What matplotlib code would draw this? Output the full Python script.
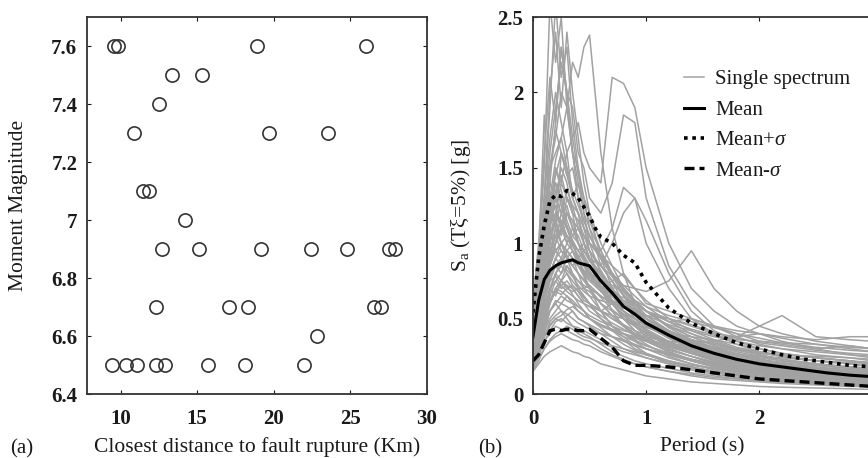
import matplotlib
matplotlib.use("Agg")
import matplotlib.pyplot as plt

# ---- panel (a): recorded events ----
dist_km = [9.57, 9.80, 18.88, 26.0,
           13.37, 15.29,
           12.48,
           10.85, 19.66, 23.56,
           11.46, 11.87,
           14.2,
           12.68, 15.12, 19.16, 22.43, 24.80, 27.52, 27.91,
           12.29, 17.1, 18.29, 26.52, 27.02,
           22.82,
           9.46, 10.35, 11.07, 12.33, 12.9, 15.72, 18.14, 21.95]
magnitude = [7.6, 7.6, 7.6, 7.6,
             7.5, 7.5,
             7.4,
             7.3, 7.3, 7.3,
             7.1, 7.1,
             7.0,
             6.9, 6.9, 6.9, 6.9, 6.9, 6.9, 6.9,
             6.7, 6.7, 6.7, 6.7, 6.7,
             6.6,
             6.5, 6.5, 6.5, 6.5, 6.5, 6.5, 6.5, 6.5]

# ---- panel (b): response spectra ----
periods = [0.0, 0.05, 0.1, 0.15, 0.2, 0.25, 0.3, 0.35, 0.4, 0.45, 0.5, 0.6, 0.7,
           0.8, 0.9, 1.0, 1.2, 1.4, 1.6, 1.8, 2.0, 2.2, 2.5, 2.8, 3.0]
spectra = [
    [0.55, 0.9, 1.5, 2.6, 2.2, 2.5, 1.9, 1.6, 1.3, 1.1, 0.95, 0.7, 0.55, 0.45, 0.38, 0.33, 0.25, 0.2, 0.16, 0.13, 0.11, 0.1, 0.08, 0.07, 0.06],
    [0.5, 0.8, 1.3, 1.9, 2.6, 2.1, 2.3, 1.8, 1.5, 1.2, 1.0, 0.8, 0.62, 0.5, 0.42, 0.36, 0.28, 0.22, 0.18, 0.15, 0.13, 0.11, 0.09, 0.08, 0.07],
    [0.45, 0.7, 1.1, 1.5, 1.7, 2.0, 1.9, 2.2, 2.1, 2.3, 2.38, 1.6, 1.1, 0.8, 0.6, 0.5, 0.38, 0.3, 0.25, 0.2, 0.17, 0.15, 0.12, 0.1, 0.09],
    [0.5, 0.75, 1.2, 1.6, 1.9, 2.2, 2.0, 1.7, 1.8, 1.6, 1.5, 1.4, 2.1, 2.06, 1.9, 1.5, 1.0, 0.7, 0.55, 0.45, 0.4, 0.35, 0.3, 0.26, 0.24],
    [0.45, 0.7, 1.0, 1.4, 1.8, 2.3, 2.0, 1.9, 1.6, 1.5, 1.3, 1.2, 1.4, 1.85, 1.8, 1.3, 0.85, 0.6, 0.45, 0.38, 0.33, 0.3, 0.26, 0.24, 0.22],
    [0.35, 0.9, 1.85, 1.2, 1.4, 1.3, 1.1, 1.0, 0.9, 0.8, 0.7, 0.55, 0.45, 0.38, 0.32, 0.27, 0.2, 0.16, 0.13, 0.11, 0.09, 0.08, 0.07, 0.06, 0.05],
    [0.4, 0.7, 1.3, 2.0, 2.4, 1.9, 2.4, 2.0, 1.7, 1.4, 1.2, 0.9, 0.7, 0.55, 0.45, 0.38, 0.3, 0.25, 0.2, 0.17, 0.15, 0.13, 0.11, 0.1, 0.09],
    [0.6, 1.0, 1.6, 2.1, 1.8, 2.3, 2.0, 1.6, 1.5, 1.3, 1.1, 0.85, 0.75, 0.6, 0.5, 0.42, 0.33, 0.27, 0.22, 0.19, 0.17, 0.15, 0.13, 0.11, 0.1],
    [0.4, 0.6, 0.9, 1.2, 1.5, 1.4, 1.6, 1.3, 1.2, 1.1, 1.0, 0.95, 1.1, 1.37, 1.3, 1.0, 0.7, 0.5, 0.4, 0.33, 0.28, 0.25, 0.22, 0.2, 0.18],
    [0.35, 0.55, 0.8, 1.1, 1.3, 1.5, 1.4, 1.2, 1.15, 1.0, 0.9, 0.85, 1.0, 1.2, 1.3, 1.15, 0.8, 0.55, 0.42, 0.35, 0.3, 0.27, 0.24, 0.22, 0.2],
    [0.3, 0.45, 0.6, 0.8, 0.9, 1.0, 0.95, 0.9, 0.85, 0.8, 0.8, 0.75, 0.7, 0.72, 0.7, 0.68, 0.75, 0.95, 0.7, 0.55, 0.45, 0.4, 0.35, 0.32, 0.3],
    [0.25, 0.35, 0.5, 0.7, 0.8, 0.75, 0.85, 0.8, 0.7, 0.65, 0.6, 0.55, 0.6, 0.58, 0.6, 0.55, 0.5, 0.45, 0.4, 0.38, 0.45, 0.52, 0.38, 0.36, 0.35],
    [0.3, 0.45, 0.65, 0.9, 1.1, 1.0, 1.05, 0.95, 0.9, 0.85, 0.8, 0.7, 0.75, 0.8, 0.7, 0.6, 0.55, 0.5, 0.45, 0.42, 0.4, 0.38, 0.36, 0.38, 0.38],
    [0.45, 0.7, 1.1, 1.5, 1.6, 1.7, 1.5, 1.3, 1.2, 1.0, 0.9, 0.75, 0.65, 0.55, 0.5, 0.45, 0.38, 0.32, 0.27, 0.23, 0.2, 0.18, 0.15, 0.13, 0.12],
    [0.3, 0.5, 0.8, 1.0, 1.2, 1.1, 1.3, 1.2, 1.0, 0.95, 0.9, 0.8, 0.7, 0.6, 0.55, 0.5, 0.42, 0.36, 0.3, 0.26, 0.23, 0.2, 0.17, 0.15, 0.14],
    [0.55, 0.8, 1.2, 1.3, 1.4, 1.25, 1.1, 1.0, 0.9, 0.85, 0.8, 0.7, 0.6, 0.5, 0.42, 0.36, 0.28, 0.22, 0.18, 0.15, 0.13, 0.12, 0.1, 0.09, 0.08],
    [0.35, 0.5, 0.7, 0.9, 1.0, 1.1, 1.0, 1.05, 1.1, 1.0, 0.95, 0.85, 0.75, 0.65, 0.55, 0.48, 0.4, 0.34, 0.29, 0.25, 0.22, 0.2, 0.17, 0.15, 0.14],
    [0.4, 0.65, 0.9, 1.1, 0.95, 1.0, 0.9, 0.8, 0.75, 0.7, 0.65, 0.55, 0.45, 0.4, 0.35, 0.3, 0.24, 0.2, 0.17, 0.14, 0.12, 0.11, 0.09, 0.08, 0.07],
    [0.3, 0.45, 0.6, 0.75, 0.85, 0.8, 0.9, 0.85, 0.8, 0.7, 0.68, 0.6, 0.55, 0.5, 0.45, 0.4, 0.33, 0.28, 0.24, 0.21, 0.18, 0.16, 0.14, 0.12, 0.11],
    [0.25, 0.35, 0.5, 0.65, 0.75, 0.7, 0.72, 0.7, 0.65, 0.6, 0.55, 0.5, 0.45, 0.4, 0.36, 0.32, 0.27, 0.23, 0.2, 0.17, 0.15, 0.13, 0.11, 0.1, 0.09],
    [0.2, 0.3, 0.42, 0.5, 0.55, 0.6, 0.58, 0.55, 0.5, 0.48, 0.45, 0.4, 0.35, 0.3, 0.27, 0.24, 0.2, 0.17, 0.14, 0.12, 0.1, 0.09, 0.08, 0.07, 0.06],
    [0.18, 0.25, 0.35, 0.4, 0.45, 0.43, 0.42, 0.4, 0.38, 0.36, 0.35, 0.3, 0.26, 0.23, 0.2, 0.18, 0.15, 0.12, 0.1, 0.09, 0.08, 0.07, 0.06, 0.05, 0.05],
    [0.15, 0.2, 0.25, 0.28, 0.3, 0.32, 0.3, 0.28, 0.27, 0.25, 0.24, 0.2, 0.18, 0.16, 0.14, 0.12, 0.1, 0.08, 0.07, 0.06, 0.05, 0.045, 0.04, 0.035, 0.03],
    [0.2, 0.28, 0.4, 0.55, 0.6, 0.55, 0.5, 0.45, 0.42, 0.4, 0.38, 0.33, 0.28, 0.25, 0.22, 0.2, 0.17, 0.14, 0.12, 0.1, 0.09, 0.08, 0.07, 0.06, 0.06],
    [0.25, 0.4, 0.55, 0.7, 0.65, 0.75, 0.8, 0.72, 0.68, 0.62, 0.6, 0.5, 0.42, 0.36, 0.3, 0.27, 0.22, 0.18, 0.15, 0.13, 0.11, 0.1, 0.08, 0.07, 0.07],
    [0.3, 0.5, 0.75, 1.0, 1.15, 1.0, 0.95, 0.9, 0.8, 0.75, 0.7, 0.6, 0.52, 0.45, 0.4, 0.35, 0.28, 0.23, 0.19, 0.16, 0.14, 0.12, 0.1, 0.09, 0.08],
    [0.5, 0.75, 1.0, 1.25, 1.15, 1.05, 1.2, 1.1, 1.0, 0.9, 0.82, 0.7, 0.6, 0.52, 0.46, 0.4, 0.32, 0.27, 0.22, 0.19, 0.17, 0.15, 0.13, 0.12, 0.11],
    [0.22, 0.3, 0.38, 0.45, 0.5, 0.48, 0.52, 0.55, 0.5, 0.48, 0.46, 0.42, 0.38, 0.35, 0.32, 0.3, 0.26, 0.22, 0.19, 0.16, 0.14, 0.12, 0.1, 0.09, 0.08],
    [0.3, 0.4, 0.55, 0.7, 0.8, 0.85, 0.8, 0.75, 0.7, 0.7, 0.72, 0.65, 0.6, 0.62, 0.6, 0.55, 0.48, 0.5, 0.45, 0.4, 0.35, 0.33, 0.3, 0.32, 0.3],
    [0.35, 0.55, 0.85, 1.2, 1.5, 1.35, 1.2, 1.15, 1.0, 0.9, 0.85, 0.72, 0.62, 0.55, 0.5, 0.45, 0.37, 0.3, 0.25, 0.21, 0.18, 0.16, 0.14, 0.12, 0.11],
    [0.4, 0.6, 0.9, 1.0, 1.2, 1.4, 1.3, 1.25, 1.2, 1.1, 1.05, 0.9, 0.8, 0.7, 0.6, 0.52, 0.42, 0.35, 0.3, 0.26, 0.23, 0.21, 0.18, 0.16, 0.15],
    [0.28, 0.38, 0.5, 0.62, 0.7, 0.68, 0.65, 0.6, 0.58, 0.55, 0.5, 0.45, 0.42, 0.4, 0.38, 0.36, 0.33, 0.3, 0.28, 0.26, 0.25, 0.24, 0.22, 0.21, 0.2],
    [0.18, 0.24, 0.3, 0.35, 0.38, 0.4, 0.38, 0.36, 0.35, 0.33, 0.32, 0.28, 0.25, 0.22, 0.2, 0.18, 0.15, 0.13, 0.11, 0.1, 0.09, 0.08, 0.07, 0.06, 0.055],
    [0.45, 0.65, 0.95, 1.3, 1.1, 1.6, 1.45, 1.3, 1.4, 1.2, 1.1, 0.95, 0.8, 0.7, 0.62, 0.55, 0.45, 0.38, 0.32, 0.28, 0.25, 0.22, 0.19, 0.17, 0.16],
    [0.55, 0.85, 1.3, 1.7, 2.0, 1.8, 1.6, 1.7, 1.45, 1.3, 1.2, 1.0, 0.85, 0.7, 0.6, 0.52, 0.42, 0.34, 0.28, 0.24, 0.21, 0.19, 0.16, 0.14, 0.13],
    [0.3, 0.45, 0.7, 0.85, 1.0, 1.2, 1.1, 1.0, 0.95, 1.0, 0.9, 0.75, 0.65, 0.6, 0.62, 0.55, 0.45, 0.4, 0.35, 0.3, 0.26, 0.23, 0.2, 0.18, 0.17],
    [0.2, 0.28, 0.35, 0.42, 0.48, 0.5, 0.47, 0.45, 0.44, 0.42, 0.4, 0.36, 0.32, 0.3, 0.28, 0.26, 0.22, 0.19, 0.17, 0.15, 0.13, 0.12, 0.1, 0.09, 0.085],
    [0.25, 0.35, 0.45, 0.55, 0.6, 0.65, 0.62, 0.6, 0.55, 0.52, 0.5, 0.46, 0.43, 0.4, 0.37, 0.35, 0.32, 0.33, 0.35, 0.38, 0.4, 0.37, 0.33, 0.3, 0.28],
    [0.38, 0.6, 0.95, 1.3, 1.55, 1.7, 1.9, 1.6, 1.4, 1.25, 1.15, 0.95, 0.8, 0.68, 0.58, 0.5, 0.4, 0.33, 0.28, 0.24, 0.21, 0.19, 0.16, 0.14, 0.13],
    [0.32, 0.5, 0.75, 0.95, 1.05, 0.95, 0.9, 0.95, 0.85, 0.78, 0.7, 0.6, 0.52, 0.46, 0.4, 0.36, 0.3, 0.25, 0.21, 0.18, 0.16, 0.14, 0.12, 0.11, 0.1],
    [0.3, 0.5, 0.7, 0.9, 1.0, 1.1, 1.05, 1.0, 0.95, 0.9, 0.85, 0.75, 0.68, 0.6, 0.55, 0.5, 0.42, 0.36, 0.31, 0.27, 0.24, 0.22, 0.19, 0.17, 0.16],
    [0.25, 0.4, 0.6, 0.8, 0.9, 0.85, 0.95, 1.0, 0.9, 0.8, 0.75, 0.68, 0.62, 0.58, 0.52, 0.46, 0.38, 0.32, 0.27, 0.23, 0.2, 0.18, 0.16, 0.14, 0.13],
    [0.35, 0.55, 0.8, 1.05, 1.2, 1.15, 1.0, 1.1, 1.05, 0.95, 0.88, 0.8, 0.7, 0.62, 0.56, 0.5, 0.41, 0.35, 0.3, 0.26, 0.23, 0.2, 0.17, 0.15, 0.14],
    [0.2, 0.3, 0.45, 0.6, 0.7, 0.75, 0.7, 0.68, 0.7, 0.65, 0.6, 0.55, 0.5, 0.45, 0.4, 0.37, 0.31, 0.27, 0.23, 0.2, 0.17, 0.15, 0.13, 0.12, 0.11],
    [0.4, 0.6, 0.85, 1.1, 1.3, 1.2, 1.25, 1.1, 1.0, 0.95, 0.9, 0.85, 0.78, 0.7, 0.62, 0.55, 0.45, 0.38, 0.33, 0.29, 0.26, 0.23, 0.2, 0.18, 0.17],
    [0.28, 0.42, 0.6, 0.78, 0.85, 0.9, 0.82, 0.78, 0.75, 0.72, 0.7, 0.65, 0.6, 0.55, 0.5, 0.45, 0.4, 0.38, 0.36, 0.33, 0.3, 0.27, 0.24, 0.22, 0.2],
    [0.45, 0.7, 1.0, 1.2, 1.1, 1.3, 1.15, 1.05, 1.0, 0.92, 0.85, 0.72, 0.62, 0.55, 0.48, 0.43, 0.35, 0.29, 0.25, 0.21, 0.19, 0.17, 0.15, 0.13, 0.12],
    [0.22, 0.32, 0.45, 0.55, 0.62, 0.6, 0.65, 0.62, 0.58, 0.55, 0.52, 0.48, 0.45, 0.42, 0.4, 0.38, 0.34, 0.3, 0.26, 0.23, 0.21, 0.19, 0.17, 0.16, 0.15],
    [0.33, 0.5, 0.72, 0.95, 1.1, 1.0, 0.9, 0.85, 0.9, 0.95, 1.0, 0.9, 0.8, 0.72, 0.65, 0.58, 0.48, 0.4, 0.34, 0.3, 0.27, 0.25, 0.22, 0.2, 0.19],
    [0.18, 0.26, 0.38, 0.48, 0.52, 0.55, 0.53, 0.5, 0.47, 0.45, 0.43, 0.4, 0.38, 0.36, 0.33, 0.3, 0.26, 0.22, 0.19, 0.17, 0.15, 0.13, 0.11, 0.1, 0.09],
    [0.5, 0.75, 1.05, 1.4, 1.3, 1.2, 1.35, 1.25, 1.1, 1.0, 0.9, 0.78, 0.68, 0.6, 0.53, 0.47, 0.38, 0.31, 0.26, 0.22, 0.19, 0.17, 0.15, 0.13, 0.12],
    [0.27, 0.4, 0.55, 0.7, 0.75, 0.8, 0.85, 0.78, 0.72, 0.68, 0.65, 0.62, 0.6, 0.58, 0.55, 0.52, 0.46, 0.42, 0.38, 0.35, 0.32, 0.3, 0.28, 0.26, 0.25],
    [0.38, 0.55, 0.75, 0.9, 0.95, 1.0, 0.92, 0.85, 0.8, 0.76, 0.72, 0.64, 0.56, 0.5, 0.45, 0.41, 0.34, 0.29, 0.25, 0.22, 0.2, 0.18, 0.16, 0.14, 0.13],
    [0.25, 0.38, 0.52, 0.68, 0.8, 0.88, 0.95, 0.9, 0.85, 0.8, 0.78, 0.72, 0.66, 0.6, 0.56, 0.52, 0.5, 0.46, 0.41, 0.37, 0.34, 0.32, 0.29, 0.27, 0.26],
    [0.42, 0.65, 0.9, 1.15, 1.35, 1.45, 1.3, 1.2, 1.15, 1.05, 0.95, 0.82, 0.7, 0.6, 0.52, 0.46, 0.37, 0.3, 0.25, 0.21, 0.18, 0.16, 0.14, 0.12, 0.11],
    [0.2, 0.28, 0.38, 0.46, 0.5, 0.52, 0.56, 0.58, 0.55, 0.52, 0.5, 0.46, 0.42, 0.38, 0.35, 0.32, 0.27, 0.23, 0.2, 0.18, 0.16, 0.14, 0.12, 0.11, 0.1],
    [0.32, 0.48, 0.68, 0.85, 0.95, 0.9, 1.0, 0.95, 0.88, 0.82, 0.76, 0.7, 0.66, 0.64, 0.6, 0.55, 0.48, 0.43, 0.39, 0.36, 0.35, 0.34, 0.33, 0.31, 0.3],
    [0.3, 0.45, 0.62, 0.75, 0.78, 0.72, 0.75, 0.7, 0.65, 0.6, 0.58, 0.52, 0.47, 0.43, 0.39, 0.35, 0.29, 0.25, 0.21, 0.18, 0.16, 0.14, 0.12, 0.11, 0.1],
    [0.48, 0.72, 1.0, 1.25, 1.45, 1.6, 1.5, 1.35, 1.25, 1.15, 1.05, 0.92, 0.8, 0.7, 0.62, 0.55, 0.44, 0.36, 0.3, 0.26, 0.23, 0.2, 0.17, 0.15, 0.14],
    [0.22, 0.33, 0.48, 0.6, 0.68, 0.72, 0.68, 0.65, 0.62, 0.6, 0.58, 0.55, 0.52, 0.5, 0.47, 0.44, 0.4, 0.36, 0.33, 0.3, 0.28, 0.26, 0.24, 0.22, 0.21],
    [0.36, 0.52, 0.7, 0.88, 1.0, 1.08, 1.12, 1.02, 0.95, 0.88, 0.8, 0.7, 0.6, 0.53, 0.47, 0.42, 0.34, 0.28, 0.24, 0.21, 0.18, 0.16, 0.14, 0.12, 0.11],
    [0.16, 0.22, 0.3, 0.36, 0.4, 0.42, 0.45, 0.43, 0.4, 0.38, 0.37, 0.34, 0.31, 0.28, 0.26, 0.24, 0.2, 0.17, 0.15, 0.13, 0.11, 0.1, 0.09, 0.08, 0.07],
    [0.4, 0.62, 0.9, 1.15, 1.25, 1.1, 1.2, 1.15, 1.1, 1.05, 1.0, 0.92, 0.85, 0.78, 0.7, 0.62, 0.5, 0.42, 0.36, 0.31, 0.28, 0.25, 0.22, 0.2, 0.18],
    [0.26, 0.38, 0.52, 0.62, 0.68, 0.66, 0.7, 0.72, 0.68, 0.64, 0.6, 0.55, 0.5, 0.46, 0.42, 0.39, 0.35, 0.33, 0.31, 0.29, 0.27, 0.26, 0.25, 0.24, 0.23],
    [0.34, 0.5, 0.72, 0.92, 1.05, 1.15, 1.05, 0.98, 0.92, 0.85, 0.78, 0.68, 0.6, 0.52, 0.46, 0.4, 0.32, 0.27, 0.23, 0.2, 0.18, 0.16, 0.14, 0.12, 0.11],
    [0.3, 0.45, 0.65, 0.8, 0.9, 0.95, 0.9, 0.88, 0.85, 0.82, 0.8, 0.76, 0.72, 0.68, 0.62, 0.58, 0.52, 0.48, 0.44, 0.4, 0.37, 0.34, 0.31, 0.29, 0.28],
    [0.55, 0.85, 1.2, 1.5, 1.75, 1.6, 1.45, 1.5, 1.3, 1.15, 1.05, 0.9, 0.78, 0.66, 0.57, 0.5, 0.4, 0.33, 0.27, 0.23, 0.2, 0.18, 0.15, 0.13, 0.12],
    [0.24, 0.35, 0.5, 0.62, 0.7, 0.75, 0.72, 0.66, 0.6, 0.55, 0.5, 0.44, 0.38, 0.33, 0.29, 0.26, 0.21, 0.18, 0.15, 0.13, 0.11, 0.1, 0.09, 0.08, 0.07],
]

stat_periods = [0.0, 0.05, 0.1, 0.15, 0.2, 0.25, 0.3, 0.35, 0.4, 0.45, 0.5, 0.55, 0.6, 0.7,
                0.8, 0.9, 1.0, 1.2, 1.4, 1.6, 1.8, 2.0, 2.2, 2.4, 2.6, 2.8, 3.0]
sa_mean = [0.38, 0.62, 0.76, 0.82, 0.85, 0.87, 0.88, 0.89, 0.87, 0.86, 0.85, 0.80, 0.75, 0.67,
           0.58, 0.53, 0.47, 0.39, 0.32, 0.27, 0.23, 0.20, 0.18, 0.16, 0.14, 0.125, 0.115]
sa_plus = [0.54, 0.90, 1.12, 1.28, 1.32, 1.31, 1.35, 1.33, 1.30, 1.24, 1.18, 1.10, 1.04, 1.00,
           0.92, 0.87, 0.74, 0.57, 0.47, 0.40, 0.34, 0.30, 0.26, 0.23, 0.21, 0.19, 0.18]
sa_minus = [0.22, 0.26, 0.34, 0.42, 0.43, 0.42, 0.43, 0.43, 0.42, 0.42, 0.43, 0.40, 0.37, 0.31,
            0.22, 0.19, 0.19, 0.18, 0.16, 0.14, 0.12, 0.10, 0.09, 0.08, 0.07, 0.06, 0.05]

plt.rcParams["font.family"] = ["Liberation Serif", "DejaVu Serif"]
plt.rcParams["mathtext.fontset"] = "custom"
plt.rcParams["mathtext.rm"] = "Liberation Serif"
plt.rcParams["mathtext.it"] = "Liberation Serif:italic"
plt.rcParams["mathtext.bf"] = "Liberation Serif:bold"

TICK_FS = 15
LABEL_FS = 15.5
INK = "#1a1a1a"


def style_axes(ax):
    ax.tick_params(direction="in", top=True, right=True, length=3, width=0.8,
                   labelsize=TICK_FS, colors=INK)
    ax.tick_params(axis="x", pad=11)
    ax.tick_params(axis="y", pad=7)
    for lab in ax.get_xticklabels() + ax.get_yticklabels():
        lab.set_fontweight("bold")
    for sp in ax.spines.values():
        sp.set_linewidth(1.3)
        sp.set_color("#333333")


fig = plt.figure(figsize=(8.68, 4.58), dpi=100)

# (a) scatter of magnitude vs distance
ax1 = fig.add_axes([0.1002, 0.1397, 0.3917, 0.8231])
ax1.plot(dist_km, magnitude, linestyle="none", marker="o", ms=9.5,
         mfc="none", mec="#333333", mew=1.2)
ax1.set_xlim(7.8, 30)
ax1.set_ylim(6.4, 7.7)
ax1.set_xticks([10, 15, 20, 25, 30])
ax1.set_yticks([6.4, 6.6, 6.8, 7.0, 7.2, 7.4, 7.6])
ax1.set_yticklabels(["6.4", "6.6", "6.8", "7", "7.2", "7.4", "7.6"])
style_axes(ax1)
ax1.set_ylabel("Moment Magnitude", fontsize=LABEL_FS, color=INK)
ax1.yaxis.set_label_coords(-0.172, 0.5)
ax1.set_xlabel("Closest distance to fault rupture (Km)", fontsize=LABEL_FS, color=INK)
ax1.xaxis.set_label_coords(0.5, -0.115)

# (b) response spectra
ax2 = fig.add_axes([0.614, 0.1397, 0.3912, 0.8231])
for i, sa in enumerate(spectra):
    ax2.plot(periods, sa, color="#a2a2a2", lw=1.1,
             label="Single spectrum" if i == 0 else None)
ax2.plot(stat_periods, sa_mean, color="black", lw=2.2, label="Mean")
ax2.plot(stat_periods, sa_plus, color="black", lw=2.6, linestyle=(0, (1, 1.3)),
         label=r"Mean+$\sigma$")
ax2.plot(stat_periods, sa_minus, color="black", lw=2.4, linestyle=(0, (3, 1.5)),
         label=r"Mean-$\sigma$")
ax2.set_xlim(0, 3)
ax2.set_ylim(0, 2.5)
ax2.set_xticks([0, 1, 2])
ax2.set_yticks([0, 0.5, 1, 1.5, 2, 2.5])
ax2.set_yticklabels(["0", "0.5", "1", "1.5", "2", "2.5"])
style_axes(ax2)
ax2.set_ylabel(r"S$_{\mathrm{a}}$ (Tξ=5%) [g]", fontsize=LABEL_FS, color=INK)
ax2.yaxis.set_label_coords(-0.178, 0.5)
ax2.set_xlabel("Period (s)", fontsize=LABEL_FS, color=INK)
ax2.xaxis.set_label_coords(0.5, -0.115)
leg = ax2.legend(loc="upper left", bbox_to_anchor=(0.445, 0.86), frameon=False,
                 fontsize=15, handlelength=0.95, handletextpad=0.55, labelspacing=0.52,
                 borderaxespad=0, borderpad=0)
for txt in leg.get_texts():
    txt.set_color(INK)

fig.text(10 / 868, 1 - 449 / 458, "(a)", fontsize=15, va="center", ha="left", color=INK)
fig.text(478 / 868, 1 - 449 / 458, "(b)", fontsize=15, va="center", ha="left", color=INK)

fig.savefig("out.png", dpi=100)
